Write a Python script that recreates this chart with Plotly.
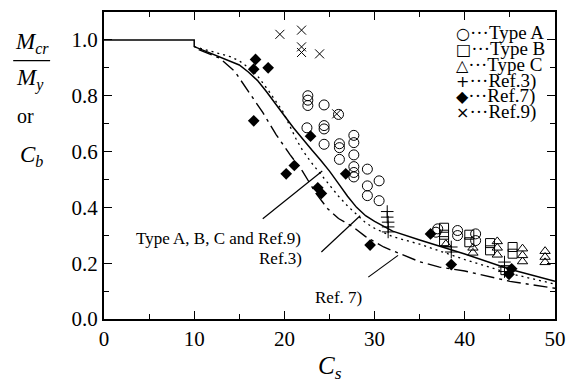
import plotly.graph_objects as go

# ---- data ----
# Curves
solid_x = [0, 10, 10, 12, 14, 15, 16, 17, 18, 19, 20, 21, 22, 23, 24, 25, 26, 27, 28, 29, 30, 32, 35, 40, 45, 50]
solid_y = [1.0, 1.0, 0.976, 0.95, 0.925, 0.91, 0.885, 0.855, 0.815, 0.77, 0.728, 0.685, 0.645, 0.607, 0.57, 0.53, 0.485, 0.44, 0.40, 0.37, 0.35, 0.315, 0.283, 0.233, 0.178, 0.135]

ref3_cx = [10, 12, 14, 15, 16.7, 18.2, 19.8, 21.3, 22, 23, 24, 25, 26, 27, 28, 29, 30, 32, 35, 40, 45, 50]
ref3_cy = [0.976, 0.958, 0.94, 0.925, 0.885, 0.82, 0.745, 0.645, 0.605, 0.56, 0.52, 0.48, 0.44, 0.405, 0.375, 0.345, 0.325, 0.295, 0.268, 0.213, 0.163, 0.125]

ref7_cx = [10.5, 12.8, 14.5, 16.3, 17.6, 19.1, 20.6, 22, 23.5, 24.8, 26, 27.6, 29, 31, 32.4, 35, 37.2, 40, 45, 50]
ref7_cy = [0.965, 0.935, 0.887, 0.80, 0.74, 0.66, 0.59, 0.53, 0.45, 0.395, 0.36, 0.33, 0.295, 0.258, 0.24, 0.205, 0.186, 0.172, 0.135, 0.11]

# Test points
typeA_x = [22.6, 22.6, 22.6, 24.4, 26.0, 22.5, 24.4, 24.4, 24.4, 26.1, 26.1, 26.1, 27.7, 27.7, 27.7, 27.7, 27.7, 27.7,
           29.2, 29.2, 29.2, 30.5, 30.5, 36.8, 37.0, 39.2, 39.2, 41.2, 41.2]
typeA_y = [0.80, 0.784, 0.765, 0.767, 0.733, 0.685, 0.693, 0.681, 0.626, 0.628, 0.614, 0.572, 0.658, 0.632, 0.588, 0.546, 0.525, 0.509,
           0.537, 0.477, 0.442, 0.495, 0.424, 0.311, 0.323, 0.317, 0.299, 0.305, 0.281]

typeB_x = [37.7, 37.7, 37.7, 40.5, 40.5, 42.8, 42.8, 45.3, 45.3, 44.5]
typeB_y = [0.327, 0.302, 0.279, 0.302, 0.275, 0.272, 0.246, 0.258, 0.234, 0.175]

typeC_x = [37.9, 40.9, 40.9, 43.6, 43.6, 43.6, 46.4, 46.4, 46.4, 48.9, 48.9, 48.9]
typeC_y = [0.268, 0.255, 0.237, 0.278, 0.255, 0.23, 0.252, 0.228, 0.206, 0.243, 0.222, 0.203]

ref3_x = [31.4, 31.4, 31.5, 31.5, 31.5, 38.5, 38.5, 44.4, 44.4, 44.4]
ref3_y = [0.385, 0.365, 0.347, 0.33, 0.312, 0.258, 0.24, 0.204, 0.186, 0.17]

ref7_x = [16.8, 16.6, 18.2, 16.6, 22.9, 21.1, 20.2, 23.7, 24.1, 26.8, 29.5, 36.2, 38.5, 45.2, 44.9]
ref7_y = [0.93, 0.895, 0.90, 0.71, 0.655, 0.55, 0.52, 0.47, 0.45, 0.52, 0.265, 0.305, 0.195, 0.18, 0.16]

ref9_x = [19.5, 21.9, 21.9, 21.9, 23.9, 25.8]
ref9_y = [1.02, 1.035, 0.975, 0.955, 0.95, 0.735]

legend_symbols = ["○", "□", "△", "+", "◆", "×"]
legend_names = ["Type A", "Type B", "Type C", "Ref.3)", "Ref.7)", "Ref.9)"]

x_ticks = [0, 10, 20, 30, 40, 50]
y_ticks = [0.0, 0.2, 0.4, 0.6, 0.8, 1.0]

SERIF = "Liberation Serif, Times New Roman, serif"

fig = go.Figure()

# curves
fig.add_trace(go.Scatter(x=solid_x, y=solid_y, mode="lines", line=dict(color="black", width=1.5)))
fig.add_trace(go.Scatter(x=ref3_cx, y=ref3_cy, mode="lines", line=dict(color="black", width=1.3, dash="2px,4px")))
fig.add_trace(go.Scatter(x=ref7_cx, y=ref7_cy, mode="lines", line=dict(color="black", width=1.4, dash="14px,5px,3px,5px")))

mk_line = dict(color="black", width=1)
fig.add_trace(go.Scatter(x=typeA_x, y=typeA_y, mode="markers",
                         marker=dict(symbol="circle-open", size=10, color="black", line=mk_line)))
fig.add_trace(go.Scatter(x=typeB_x, y=typeB_y, mode="markers",
                         marker=dict(symbol="square-open", size=9, color="black", line=mk_line)))
fig.add_trace(go.Scatter(x=typeC_x, y=typeC_y, mode="markers",
                         marker=dict(symbol="triangle-up-open", size=9, color="black", line=mk_line)))
fig.add_trace(go.Scatter(x=ref3_x, y=ref3_y, mode="markers",
                         marker=dict(symbol="cross-thin", size=9, color="black", line=mk_line)))
fig.add_trace(go.Scatter(x=ref7_x, y=ref7_y, mode="markers",
                         marker=dict(symbol="diamond", size=9, color="black")))
fig.add_trace(go.Scatter(x=ref9_x, y=ref9_y, mode="markers",
                         marker=dict(symbol="x-thin", size=9, color="black", line=mk_line)))

# leader lines for curve labels
leaders = [((17.6, 0.359), (24.2, 0.53)),
           ((24.1, 0.24), (28.4, 0.37)),
           ((29.3, 0.15), (32.6, 0.228))]
for (x0, y0), (x1, y1) in leaders:
    fig.add_shape(type="line", xref="x", yref="y", x0=x0, y0=y0, x1=x1, y1=y1,
                  line=dict(color="black", width=1.2))


def pap(px, py):
    return (px - 104) / 452, (319 - py) / 309


for txt, px, py in [("Type A, B, C and Ref.9)", 219, 238),
                    ("Ref.3)", 281, 258),
                    ("Ref. 7)", 339, 297)]:
    xx, yy = pap(px, py)
    fig.add_annotation(xref="paper", yref="paper", x=xx, y=yy,
                       text=txt, showarrow=False, xanchor="center", yanchor="middle",
                       font=dict(family=SERIF, size=17, color="black"))

# legend as text
leg_y = [30.7, 46.7, 63.0, 79.0, 95.0, 111.0]
for sym, name, py in zip(legend_symbols, legend_names, leg_y):
    xx, yy = pap(455, py)
    fig.add_annotation(xref="paper", yref="paper", x=xx, y=yy,
                       text='<span style="font-family:DejaVu Sans;font-size:16px">%s</span>···%s' % (sym, name),
                       showarrow=False, xanchor="left", yanchor="middle",
                       font=dict(family=SERIF, size=19, color="black"))

# y-axis title (fraction)
for txt, px, py, sz in [("<i>M</i><sub><i>cr</i></sub>", 32, 41, 23),
                        ("<i>M</i><sub><i>y</i></sub>", 30, 78, 23),
                        ("or", 25, 115, 20),
                        ("<i>C</i><sub><i>b</i></sub>", 31, 155, 23)]:
    xx, yy = pap(px, py)
    fig.add_annotation(xref="paper", yref="paper", x=xx, y=yy, text=txt, showarrow=False,
                       xanchor="center", yanchor="middle", font=dict(family=SERIF, size=sz, color="black"))
x0p, yp = pap(13, 59)
x1p, _ = pap(50, 59)
fig.add_shape(type="line", xref="paper", yref="paper", x0=x0p, x1=x1p, y0=yp, y1=yp,
              line=dict(color="black", width=1.3))

# x axis title
xx, yy = pap(330, 368)
fig.add_annotation(xref="paper", yref="paper", x=xx, y=yy, text="<i>C</i><sub><i>s</i></sub>",
                   showarrow=False, xanchor="center", yanchor="middle",
                   font=dict(family=SERIF, size=25, color="black"))

axis_common = dict(showgrid=False, zeroline=False, showline=True, linecolor="black", linewidth=2,
                   mirror="allticks", ticks="inside", ticklen=8, tickwidth=1.3, tickcolor="black",
                   tickfont=dict(family=SERIF, size=21, color="black"))

fig.update_xaxes(range=[0, 50], tickvals=x_ticks, ticktext=[str(v) for v in x_ticks],
                 minor=dict(ticks="inside", ticklen=5, dtick=5, tickcolor="black", tickwidth=1.2),
                 **axis_common)
fig.update_yaxes(range=[0, 1.1], tickvals=y_ticks, ticktext=["%.1f" % v for v in y_ticks],
                 minor=dict(ticks="inside", ticklen=5, dtick=0.1, tickcolor="black", tickwidth=1.2),
                 **axis_common)

fig.update_layout(width=576, height=383, margin=dict(l=104, r=20, t=10, b=64),
                  paper_bgcolor="white", plot_bgcolor="white", showlegend=False)

fig.write_html("out.html", config={"displayModeBar": False},
               post_script="document.body.style.margin='0';document.body.style.overflow='hidden';")
